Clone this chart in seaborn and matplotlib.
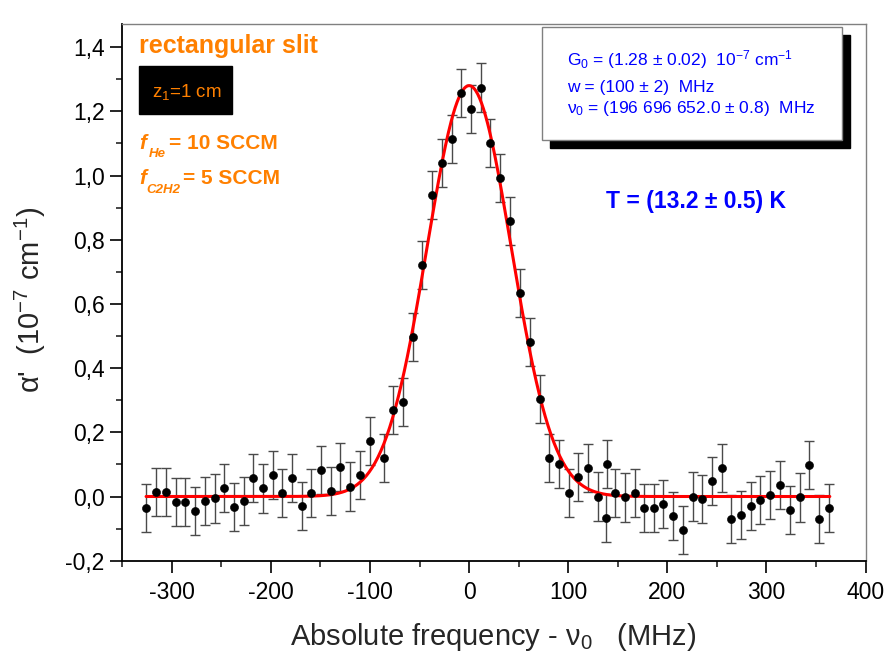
import numpy as np
import pandas as pd
import matplotlib
matplotlib.use("Agg")
import matplotlib.pyplot as plt
import seaborn as sns
from matplotlib.patches import Rectangle
from matplotlib.ticker import MultipleLocator, FuncFormatter

# ---------------- data ----------------
freq = [-325.6, -315.9, -305.8, -296.0, -286.3, -276.6, -266.5, -256.8, -247.0, -237.3,
        -227.6, -217.9, -208.2, -198.4, -188.6, -178.5, -168.8, -159.1, -149.3, -139.6,
        -129.9, -120.2, -110.1, -100.3, -86.2, -76.5, -66.4, -57.0, -47.3, -37.6,
        -27.5, -17.7, -7.7, 2.0, 11.8, 21.5, 31.6, 41.3, 51.4, 61.1,
        71.2, 80.6, 90.4, 100.4, 110.2, 119.8, 129.6, 137.7, 139.4, 147.3,
        157.1, 166.9, 176.6, 186.3, 196.1, 205.8, 215.9, 225.6, 235.3, 245.1,
        254.8, 264.5, 274.3, 284.0, 293.8, 303.5, 313.6, 323.7, 333.4, 343.1,
        352.9, 362.9]
alpha = [-0.036, 0.013, 0.013, -0.016, -0.016, -0.045, -0.015, -0.006, 0.026, -0.033,
         -0.015, 0.058, 0.025, 0.068, 0.012, 0.058, -0.030, 0.011, 0.083, 0.016,
         0.093, 0.031, 0.068, 0.174, 0.121, 0.269, 0.294, 0.497, 0.720, 0.938,
         1.039, 1.115, 1.256, 1.208, 1.274, 1.102, 0.991, 0.859, 0.633, 0.481,
         0.303, 0.119, 0.100, 0.011, 0.061, 0.090, 0.000, -0.066, 0.102, 0.011,
         -0.003, 0.010, -0.036, -0.037, -0.023, -0.060, -0.105, 0.000, -0.009, 0.047,
         0.089, -0.070, -0.058, -0.030, -0.012, 0.006, 0.035, -0.041, -0.003, 0.099,
         -0.069, -0.035]
alpha_err = 0.075

# Gaussian fit parameters (as printed in the chart)
G0 = 1.28        # 10^-7 cm^-1
w_fwhm = 100.0   # MHz
nu_c = 0.0       # MHz relative to nu0
fit_range = (-326.0, 364.0)

x_ticks = [-300, -200, -100, 0, 100, 200, 300, 400]
y_ticks = [-0.2, 0.0, 0.2, 0.4, 0.6, 0.8, 1.0, 1.2, 1.4]

title_txt = "rectangular slit"
z_txt = "z$_1$=1 cm"
box_lines = ["G$_0$ = (1.28 ± 0.02)  10$^{-7}$ cm$^{-1}$",
             "w = (100 ± 2)  MHz",
             "ν$_0$ = (196 696 652.0 ± 0.8)  MHz"]
temp_txt = "T = (13.2 ± 0.5) K"

# ---------------- style ----------------
sns.set_style("ticks")
plt.rcParams["font.family"] = ["Liberation Sans", "DejaVu Sans"]
plt.rcParams["mathtext.fontset"] = "custom"
plt.rcParams["mathtext.rm"] = "Liberation Sans"
plt.rcParams["mathtext.it"] = "Liberation Sans:italic"
plt.rcParams["mathtext.bf"] = "Liberation Sans:bold"

W_PX, H_PX = 888, 655
fig = plt.figure(figsize=(W_PX / 100, H_PX / 100), dpi=100)
fig.patch.set_facecolor("white")

def fx(x):
    return x / W_PX

def fy(y):
    return 1 - y / H_PX

ax_l, ax_r, ax_t, ax_b = 122.3, 865.5, 24.0, 560.7
ax = fig.add_axes([fx(ax_l), fy(ax_b), (ax_r - ax_l) / W_PX, (ax_b - ax_t) / H_PX])
ax.set_facecolor("white")

df = pd.DataFrame({"freq": freq, "alpha": alpha})

ax.errorbar(df["freq"], df["alpha"], yerr=alpha_err, fmt="none", ecolor="#4a4a4a",
            elinewidth=1.0, capsize=3.6, capthick=1.0, zorder=2)

fit_x = np.linspace(fit_range[0], fit_range[1], 700)
fit_y = G0 * np.exp(-4 * np.log(2) * ((fit_x - nu_c) / w_fwhm) ** 2)
sns.lineplot(x=fit_x, y=fit_y, color="#ff0000", linewidth=2.2, ax=ax, zorder=3)

sns.scatterplot(data=df, x="freq", y="alpha", color="black", s=34, edgecolor="black",
                linewidth=0.4, ax=ax, zorder=4, legend=False)

ax.set_xlim(-350, 400)
ax.set_ylim(-0.2, 1.472)
ax.set_xticks(x_ticks)
ax.set_yticks(y_ticks)
ax.xaxis.set_minor_locator(MultipleLocator(50))
ax.yaxis.set_minor_locator(MultipleLocator(0.1))
ax.yaxis.set_major_formatter(FuncFormatter(lambda v, p: f"{v:.1f}".replace(".", ",")))
ax.xaxis.set_major_formatter(FuncFormatter(lambda v, p: f"{v:.0f}"))
ax.set_xlabel("")
ax.set_ylabel("")

ax.tick_params(which="major", direction="out", length=8.3, width=1.2, labelsize=16.5,
               top=False, right=False, colors="black")
ax.tick_params(axis="x", which="major", pad=6.5)
ax.tick_params(axis="y", which="major", pad=4.5)
ax.tick_params(which="minor", direction="out", length=4.3, width=1.2, top=False, right=False)

for s in ["left", "bottom"]:
    ax.spines[s].set_color("black")
    ax.spines[s].set_linewidth(1.3)
for s in ["top", "right"]:
    ax.spines[s].set_color("#808080")
    ax.spines[s].set_linewidth(1.0)

# axis labels
fig.text(fx(493), fy(645), "Absolute frequency - ν$_0$   (MHz)", ha="center",
         va="baseline", fontsize=21)
fig.text(fx(30), fy(300), "α'  (10$^{-7}$ cm$^{-1}$)", ha="center", va="center",
         rotation=90, fontsize=21)

# orange annotations
orange = "#ff8000"
fig.text(fx(139.3), fy(53.3), title_txt, color=orange, fontsize=18, fontweight="bold",
         va="baseline", ha="left")
fig.add_artist(Rectangle((fx(139.3), fy(114.3)), (232.3 - 139.3) / W_PX, (114.3 - 66) / H_PX,
                         transform=fig.transFigure, facecolor="black", edgecolor="black"))
fig.text(fx(151.7), fy(97.3), z_txt, color=orange, fontsize=13.5, va="baseline", ha="left")

fig.text(fx(139.3), fy(149.3), "f", color=orange, fontsize=15, fontweight="bold",
         style="italic", va="baseline", ha="left")
fig.text(fx(148.3), fy(157.3), "He", color=orange, fontsize=9.5, fontweight="bold",
         style="italic", va="baseline", ha="left")
fig.text(fx(169.3), fy(149.3), "= 10 SCCM", color=orange, fontsize=15, fontweight="bold",
         va="baseline", ha="left")

fig.text(fx(139.3), fy(184.5), "f", color=orange, fontsize=15, fontweight="bold",
         style="italic", va="baseline", ha="left")
fig.text(fx(146.7), fy(192.7), "C2H2", color=orange, fontsize=9.5, fontweight="bold",
         style="italic", va="baseline", ha="left")
fig.text(fx(183.3), fy(184.5), "= 5 SCCM", color=orange, fontsize=15, fontweight="bold",
         va="baseline", ha="left")

# fit results box with shadow
fig.add_artist(Rectangle((fx(549.5), fy(148.3)), (850 - 549.5) / W_PX, (148.3 - 35) / H_PX,
                         transform=fig.transFigure, facecolor="black", edgecolor="black",
                         zorder=5))
fig.add_artist(Rectangle((fx(541.7), fy(140)), (842.3 - 541.7) / W_PX, (140 - 26.7) / H_PX,
                         transform=fig.transFigure, facecolor="white", edgecolor="#808080",
                         linewidth=1.0, zorder=6))
blue = "#0000ff"
for txt, base in zip(box_lines, [65.0, 91.7, 112.7]):
    fig.text(fx(567.3), fy(base), txt, color=blue, fontsize=12.5, va="baseline",
             ha="left", zorder=7)

fig.text(fx(605.7), fy(207.7), temp_txt, color=blue, fontsize=16.5, fontweight="bold",
         va="baseline", ha="left")

fig.savefig("out.png", dpi=100, facecolor="white")
